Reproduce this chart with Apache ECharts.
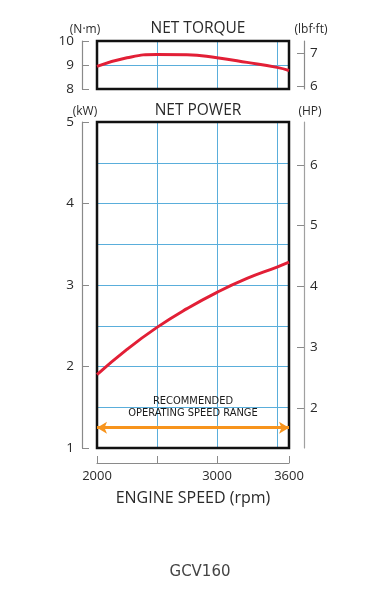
<!DOCTYPE html>
<html><head><meta charset="utf-8">
<script src="https://cdn.jsdelivr.net/npm/echarts@6/dist/echarts.min.js"></script>
<style>html,body{margin:0;padding:0;background:#fff;}#c{width:388px;height:590px;}</style>
</head><body><div id="c"></div>
<script>
// Data
const rpm = [2000, 2250, 2500, 2750, 3000, 3250, 3500, 3600];
const torqueNm = [8.94, 9.30, 9.44, 9.43, 9.30, 9.11, 8.90, 8.77];
const powerKW = [1.90, 2.21, 2.48, 2.71, 2.91, 3.08, 3.22, 3.28];
const rangeRpm = [2000, 3600];
const rangeY = 1.25;
const xTickValues = [2000, 2500, 3000, 3600];
const xLabelValues = [2000, 3000, 3600];
const nmTicks = [8, 9, 10];
const lbfTicks = [6, 7];
const kwTicks = [1, 2, 3, 4, 5];
const hpTicks = [2, 3, 4, 5, 6];
const NM_TO_LBF = 0.737562;
const KW_TO_HP = 1 / 0.745700;

const gridBlue = '#5aaedb';
const gray = '#8a8a8a';
const txt = '#2a2a2a';
const font = 'Open Sans';

const chart = echarts.init(document.getElementById('c'), null, {renderer: 'canvas'});

function hiddenX(gi) {
  return {type: 'value', gridIndex: gi, min: 2000, max: 3600, interval: 500,
    axisLine: {show: false}, axisTick: {show: false}, axisLabel: {show: false},
    splitLine: {show: true, showMinLine: false, showMaxLine: false, lineStyle: {color: gridBlue, width: 1}}};
}
function grayAxis(extra) {
  return Object.assign({type: 'value',
    axisLine: {show: true, lineStyle: {color: gray, width: 1.2}},
    splitLine: {show: false}}, extra);
}
const titleStyle = {fontFamily: font, fontSize: 15.5, fontWeight: 'normal', color: txt};
const unitStyle = {fontFamily: font, fontSize: 12, fontWeight: 'normal', color: txt};

const option = {
  backgroundColor: '#fff',
  animation: false,
  title: [
    {text: 'NET TORQUE', left: 193, top: 16, textAlign: 'center', textStyle: titleStyle},
    {text: 'NET POWER', left: 193, top: 98, textAlign: 'center', textStyle: titleStyle},
    {text: '(N·m)', left: 80, top: 19, textAlign: 'center', textStyle: unitStyle},
    {text: '(lbf·ft)', left: 306, top: 19, textAlign: 'center', textStyle: unitStyle},
    {text: '(kW)', left: 80, top: 101, textAlign: 'center', textStyle: unitStyle},
    {text: '(HP)', left: 305, top: 101, textAlign: 'center', textStyle: unitStyle},
    {text: 'GCV160', left: 195, top: 560, textAlign: 'center', textStyle: {fontFamily: 'DejaVu Sans', fontSize: 15, fontWeight: 'normal', color: '#444'}}
  ],
  grid: [
    {left: 97, top: 41, width: 192, height: 48, show: true, borderColor: '#111', borderWidth: 2.5, z: 5},
    {left: 97, top: 122, width: 192, height: 326, show: true, borderColor: '#111', borderWidth: 2.5, z: 5}
  ],
  xAxis: [
    hiddenX(0),
    hiddenX(1),
    grayAxis({gridIndex: 1, min: 2000, max: 3600, position: 'bottom', offset: 15,
      axisTick: {show: true, inside: true, length: 7, customValues: xTickValues, lineStyle: {color: gray}},
      axisLabel: {show: true, customValues: xLabelValues, formatter: v => String(v), color: txt, fontFamily: font, fontSize: 13, margin: 7},
      name: 'ENGINE SPEED (rpm)', nameLocation: 'middle', nameGap: 27,
      nameTextStyle: {fontFamily: font, fontSize: 16, color: txt}})
  ],
  yAxis: [
    {type: 'value', gridIndex: 0, min: 8, max: 10, interval: 1,
      axisLine: {show: false}, axisTick: {show: false}, axisLabel: {show: false},
      splitLine: {show: true, showMinLine: false, showMaxLine: false, lineStyle: {color: gridBlue}}},
    grayAxis({gridIndex: 0, min: 8, max: 10, position: 'left', offset: 15,
      axisTick: {show: true, inside: true, length: 7, customValues: nmTicks, lineStyle: {color: gray}},
      axisLabel: {customValues: nmTicks, color: txt, fontFamily: font, fontSize: 13.5, margin: 8}}),
    grayAxis({gridIndex: 0, min: 8 * NM_TO_LBF, max: 10 * NM_TO_LBF, position: 'right', offset: 15,
      axisTick: {show: true, inside: true, length: 7, customValues: lbfTicks, lineStyle: {color: gray}},
      axisLabel: {customValues: lbfTicks, color: txt, fontFamily: font, fontSize: 13.5, margin: 6}}),
    {type: 'value', gridIndex: 1, min: 1, max: 5, interval: 0.5,
      axisLine: {show: false}, axisTick: {show: false}, axisLabel: {show: false},
      splitLine: {show: true, showMinLine: false, showMaxLine: false, lineStyle: {color: gridBlue}}},
    grayAxis({gridIndex: 1, min: 1, max: 5, position: 'left', offset: 15,
      axisTick: {show: true, inside: true, length: 7, customValues: kwTicks, lineStyle: {color: gray}},
      axisLabel: {customValues: kwTicks, color: txt, fontFamily: font, fontSize: 13.5, margin: 8}}),
    grayAxis({gridIndex: 1, min: 1 * KW_TO_HP, max: 5 * KW_TO_HP, position: 'right', offset: 15,
      axisLine: {show: true, lineStyle: {color: '#a0a0a0', width: 1.2}},
      axisTick: {show: true, inside: true, length: 7, customValues: hpTicks, lineStyle: {color: gray}},
      axisLabel: {customValues: hpTicks, color: txt, fontFamily: font, fontSize: 13.5, margin: 6}})
  ],
  series: [
    {type: 'line', xAxisIndex: 0, yAxisIndex: 0, smooth: 0.5, showSymbol: false, z: 6,
      data: rpm.map((r, i) => [r, torqueNm[i]]),
      lineStyle: {color: '#e21f36', width: 3}},
    {type: 'line', xAxisIndex: 1, yAxisIndex: 3, smooth: 0.5, showSymbol: false, z: 6,
      data: rpm.map((r, i) => [r, powerKW[i]]),
      lineStyle: {color: '#e21f36', width: 3}},
    {type: 'line', xAxisIndex: 1, yAxisIndex: 3, data: [], z: 6,
      markLine: {silent: true, animation: false, symbol: ['arrow', 'arrow'], symbolSize: [9, 10],
        lineStyle: {color: '#f7941d', width: 3, type: 'solid'},
        label: {show: true, position: 'insideMiddleTop', distance: 8,
          formatter: 'RECOMMENDED\nOPERATING SPEED RANGE',
          fontFamily: 'DejaVu Sans Condensed', fontSize: 11, lineHeight: 12, color: '#1a1a1a'},
        data: [[{coord: [rangeRpm[0], rangeY]}, {coord: [rangeRpm[1], rangeY]}]]}}
  ]
};
chart.setOption(option);
</script>
</body></html>
